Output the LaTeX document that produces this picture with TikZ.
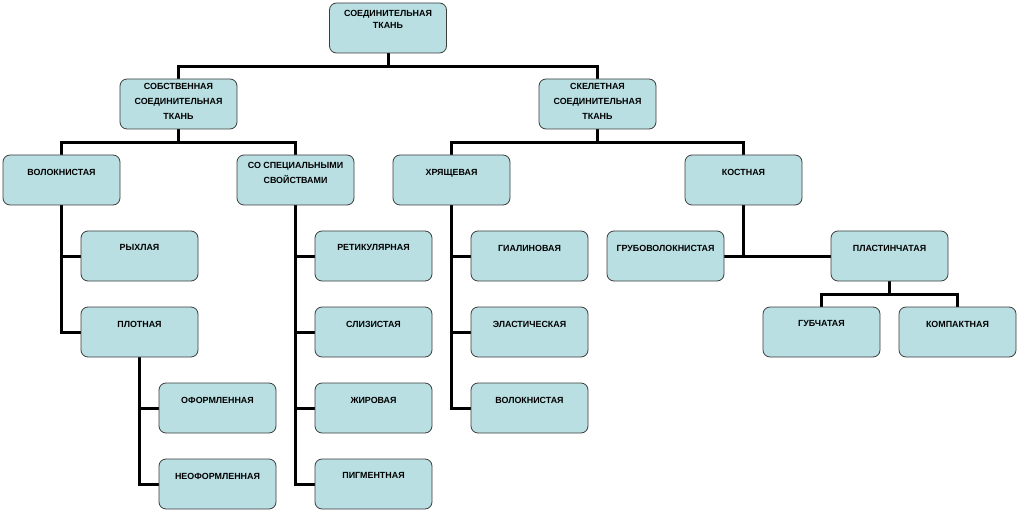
\documentclass[tikz,border=0pt]{standalone}
\usepackage{fontspec}
\setmainfont{Liberation Sans}
\usetikzlibrary{backgrounds}
\definecolor{boxfill}{RGB}{185,223,227}
\definecolor{boxline}{RGB}{60,60,60}
\tikzset{
  box/.style={draw=boxline, line width=0.8pt, fill=boxfill, rounded corners=7pt,
    minimum width=117pt, minimum height=50pt, inner sep=0pt},
  lbl/.style={anchor=north, inner sep=0pt, align=center,
    font=\fontsize{8.9}{15}\selectfont\bfseries},
  conn/.style={line width=3pt, line join=miter, black},
}
\begin{document}
\begin{tikzpicture}[x=1pt,y=-1pt]
\useasboundingbox (0,0) rectangle (1020,513);
% boxes
\node[box] (root)  at (388,28) {};
\node[box] (sob)   at (178.5,104) {};
\node[box] (skel)  at (597.5,104) {};
\node[box] (vol)   at (61.5,180) {};
\node[box] (spec)  at (295.5,180) {};
\node[box] (hr)    at (451.5,180) {};
\node[box] (kost)  at (743.5,180) {};
\node[box] (ryh)   at (139.5,256) {};
\node[box] (plot)  at (139.5,332) {};
\node[box] (ofo)   at (217.5,408) {};
\node[box] (neo)   at (217.5,484) {};
\node[box] (ret)   at (373.5,256) {};
\node[box] (sliz)  at (373.5,332) {};
\node[box] (zhir)  at (373.5,408) {};
\node[box] (pigm)  at (373.5,484) {};
\node[box] (gial)  at (529.5,256) {};
\node[box] (elast) at (529.5,332) {};
\node[box] (volb)  at (529.5,408) {};
\node[box] (grub)  at (665.5,256) {};
\node[box] (plast) at (889.5,256) {};
\node[box] (gub)   at (821.5,332) {};
\node[box] (komp)  at (957.5,332) {};
% labels
\node[lbl, font=\fontsize{8.9}{12.5}\selectfont\bfseries] (t-root) at ([yshift=-7pt]root.north) {СОЕДИНИТЕЛЬНАЯ\\ТКАНЬ};
\node[lbl] (t-sob)  at ([yshift=-4pt]sob.north)  {СОБСТВЕННАЯ\\СОЕДИНИТЕЛЬНАЯ\\ТКАНЬ};
\node[lbl] (t-skel) at ([yshift=-4pt]skel.north) {СКЕЛЕТНАЯ\\СОЕДИНИТЕЛЬНАЯ\\ТКАНЬ};
\node[lbl] (t-vol)  at ([yshift=-14.5pt]vol.north)  {ВОЛОКНИСТАЯ};
\node[lbl] (t-spec) at ([yshift=-7.5pt]spec.north) {СО СПЕЦИАЛЬНЫМИ\\СВОЙСТВАМИ};
\node[lbl] (t-hr)   at ([yshift=-14.5pt]hr.north)   {ХРЯЩЕВАЯ};
\node[lbl] (t-kost) at ([yshift=-14.5pt]kost.north) {КОСТНАЯ};
\node[lbl] (t-ryh)  at ([yshift=-14pt]ryh.north)  {РЫХЛАЯ};
\node[lbl] (t-plot) at ([yshift=-14pt]plot.north) {ПЛОТНАЯ};
\node[lbl] (t-ofo)  at ([yshift=-14pt]ofo.north)  {ОФОРМЛЕННАЯ};
\node[lbl] (t-neo)  at ([yshift=-14pt]neo.north)  {НЕОФОРМЛЕННАЯ};
\node[lbl] (t-ret)  at ([yshift=-14pt]ret.north)  {РЕТИКУЛЯРНАЯ};
\node[lbl] (t-sliz) at ([yshift=-14pt]sliz.north) {СЛИЗИСТАЯ};
\node[lbl] (t-zhir) at ([yshift=-14pt]zhir.north) {ЖИРОВАЯ};
\node[lbl] (t-pigm) at ([yshift=-14pt]pigm.north) {ПИГМЕНТНАЯ};
\node[lbl] (t-gial) at ([yshift=-14pt]gial.north) {ГИАЛИНОВАЯ};
\node[lbl] (t-elast) at ([yshift=-14pt]elast.north) {ЭЛАСТИЧЕСКАЯ};
\node[lbl] (t-volb) at ([yshift=-14pt]volb.north) {ВОЛОКНИСТАЯ};
\node[lbl] (t-grub) at ([yshift=-14pt]grub.north) {ГРУБОВОЛОКНИСТАЯ};
\node[lbl] (t-plast) at ([yshift=-14pt]plast.north) {ПЛАСТИНЧАТАЯ};
\node[lbl] (t-gub)  at ([yshift=-14pt]gub.north)  {ГУБЧАТАЯ};
\node[lbl] (t-komp) at ([yshift=-14pt]komp.north) {КОМПАКТНАЯ};
% connectors
\begin{pgfonlayer}{background}
\draw[conn] (root.south) -- ++(0,13) -| (sob.north);
\draw[conn] (root.south) -- ++(0,13) -| (skel.north);
\draw[conn] (sob.south) -- ++(0,13) -| (vol.north);
\draw[conn] (sob.south) -- ++(0,13) -| (spec.north);
\draw[conn] (skel.south) -- ++(0,13) -| (hr.north);
\draw[conn] (skel.south) -- ++(0,13) -| (kost.north);
\draw[conn] (vol.south) |- (ryh.west);
\draw[conn] (vol.south) |- (plot.west);
\draw[conn] (plot.south) |- (ofo.west);
\draw[conn] (plot.south) |- (neo.west);
\draw[conn] (spec.south) |- (ret.west);
\draw[conn] (spec.south) |- (sliz.west);
\draw[conn] (spec.south) |- (zhir.west);
\draw[conn] (spec.south) |- (pigm.west);
\draw[conn] (hr.south) |- (gial.west);
\draw[conn] (hr.south) |- (elast.west);
\draw[conn] (hr.south) |- (volb.west);
\draw[conn] (grub.east) -- (plast.west);
\draw[conn] (kost.south) -- (kost.south |- grub.east);
\draw[conn] (plast.south) -- ++(0,13) -| (gub.north);
\draw[conn] (plast.south) -- ++(0,13) -| (komp.north);
\end{pgfonlayer}
\end{tikzpicture}
\end{document}
